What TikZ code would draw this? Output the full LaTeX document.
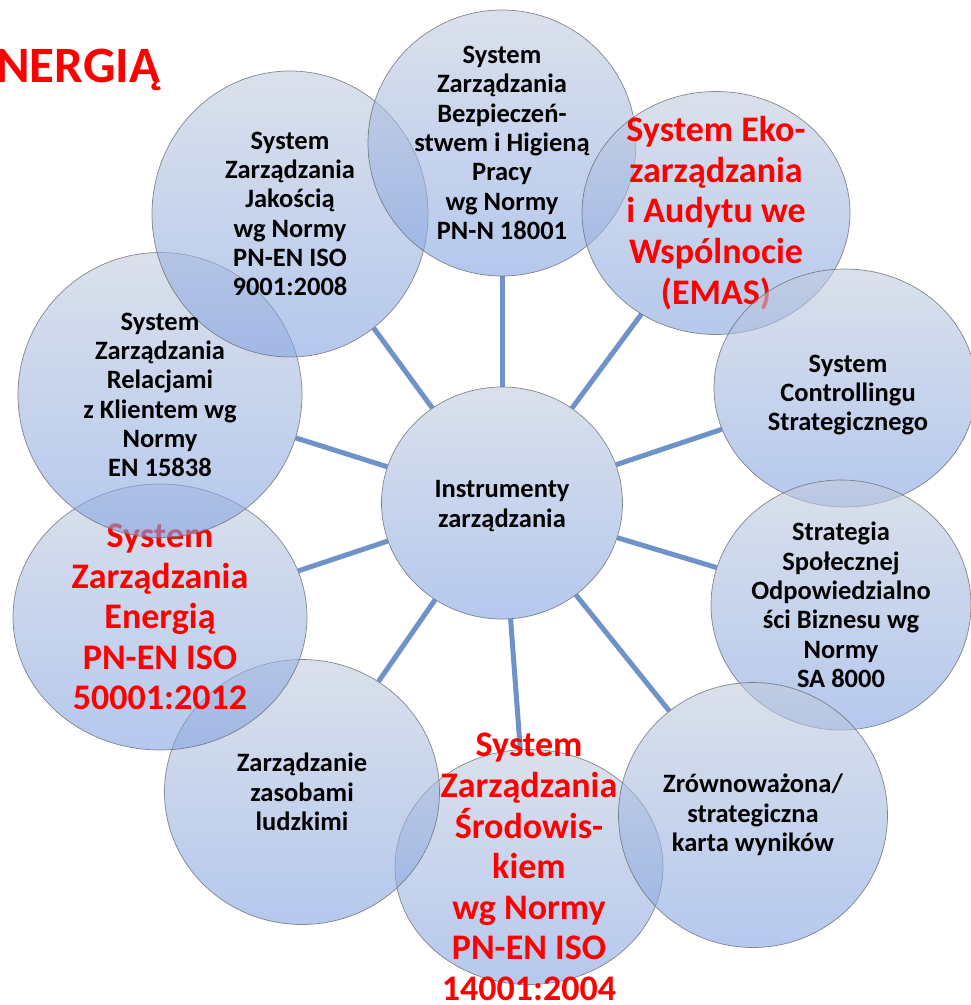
\documentclass[tikz,border=0pt]{standalone}
\usepackage{fontspec}
\setmainfont{Carlito}
\usetikzlibrary{shapes.geometric,backgrounds}

\definecolor{bubtop}{RGB}{194,204,222}
\definecolor{bubbot}{RGB}{132,163,225}
\definecolor{linkblue}{RGB}{111,146,200}
\definecolor{rimgray}{RGB}{105,108,115}
\definecolor{hotred}{RGB}{255,0,0}

\tikzset{
  bubble/.style={ellipse, draw=rimgray, line width=0.7pt, draw opacity=0.8,
    top color=bubtop, bottom color=bubbot, fill opacity=0.6, inner sep=0pt},
  blacktxt/.style={align=center, inner sep=0pt, text=black,
    font=\bfseries\fontsize{26.5}{29.3}\selectfont},
  redtxt/.style={align=center, inner sep=0pt, text=hotred,
    font=\bfseries\fontsize{36}{40.6}\selectfont},
  link/.style={draw=linkblue, line width=5pt},
}

\begin{document}
\begin{tikzpicture}[x=1pt, y=-1pt]
\useasboundingbox (0,0) rectangle (971,1005);

% title fragment
\node[anchor=base west, inner sep=0pt, text=hotred,
  font=\bfseries\fontsize{51}{60}\selectfont] (title) at (-4,82) {NERGIĄ};

% hub
\node[bubble, minimum width=241pt, minimum height=232pt] (ctr) at (502,503) {};
\node[blacktxt] (ctr-t) at (502,506) {Instrumenty\\zarządzania};

% surrounding systems
\node[bubble, minimum width=268pt, minimum height=235pt] (sro) at (529,867) {};
\node[redtxt] (sro-t) at (sro) {System\\Zarządzania\\Środowis-\\kiem\\wg Normy\\PN-EN ISO\\14001:2004};

\node[bubble, minimum width=275pt, minimum height=265pt] (zas) at (302,792) {};
\node[blacktxt] (zas-t) at (zas) {Zarządzanie\\zasobami\\ludzkimi};

\node[bubble, minimum width=294pt, minimum height=266pt] (ene) at (160,617) {};
\node[redtxt] (ene-t) at (ene) {System\\Zarządzania\\Energią\\PN-EN ISO\\50001:2012};

\node[bubble, minimum width=284pt, minimum height=285pt] (rel) at (160,395) {};
\node[bubble, minimum width=276pt, minimum height=286pt] (jak) at (290,214) {};
\node[blacktxt] (rel-t) at (rel) {System\\Zarządzania\\Relacjami\\z Klientem wg\\Normy\\EN 15838};
\node[blacktxt] (jak-t) at (jak) {System\\Zarządzania\\Jakością\\wg Normy\\PN-EN ISO\\9001:2008};

\node[bubble, minimum width=268pt, minimum height=266pt] (bhp) at (502,143) {};
\node[blacktxt] (bhp-t) at (bhp) {System\\Zarządzania\\Bezpieczeń-\\stwem i Higieną\\Pracy\\wg Normy\\PN-N 18001};

\node[bubble, minimum width=268pt, minimum height=243pt] (emas) at (716,213) {};
\node[redtxt] (emas-t) at (emas) {System Eko-\\zarządzania\\i Audytu we\\Wspólnocie\\(EMAS)};

\node[bubble, minimum width=262pt, minimum height=238pt] (ctl) at (845,388) {};
\node[blacktxt] (ctl-t) at (848,395) {System\\Controllingu\\Strategicznego};

\node[bubble, minimum width=260pt, minimum height=250pt] (str) at (841,605) {};
\node[blacktxt] (str-t) at (str) {Strategia\\Społecznej\\Odpowiedzialno\\ści Biznesu wg\\Normy\\SA 8000};

\node[bubble, minimum width=269pt, minimum height=265pt] (zrw) at (753,815) {};
\node[blacktxt] (zrw-t) at (zrw) {Zrównoważona/\\strategiczna\\karta wyników};

% spokes from the hub, kept behind every bubble
\begin{pgfonlayer}{background}
  \foreach \n in {jak,bhp,emas,ctl,str,zrw,sro,zas,ene,rel}
    \draw[link] (ctr) -- (\n);
\end{pgfonlayer}
\end{tikzpicture}
\end{document}
